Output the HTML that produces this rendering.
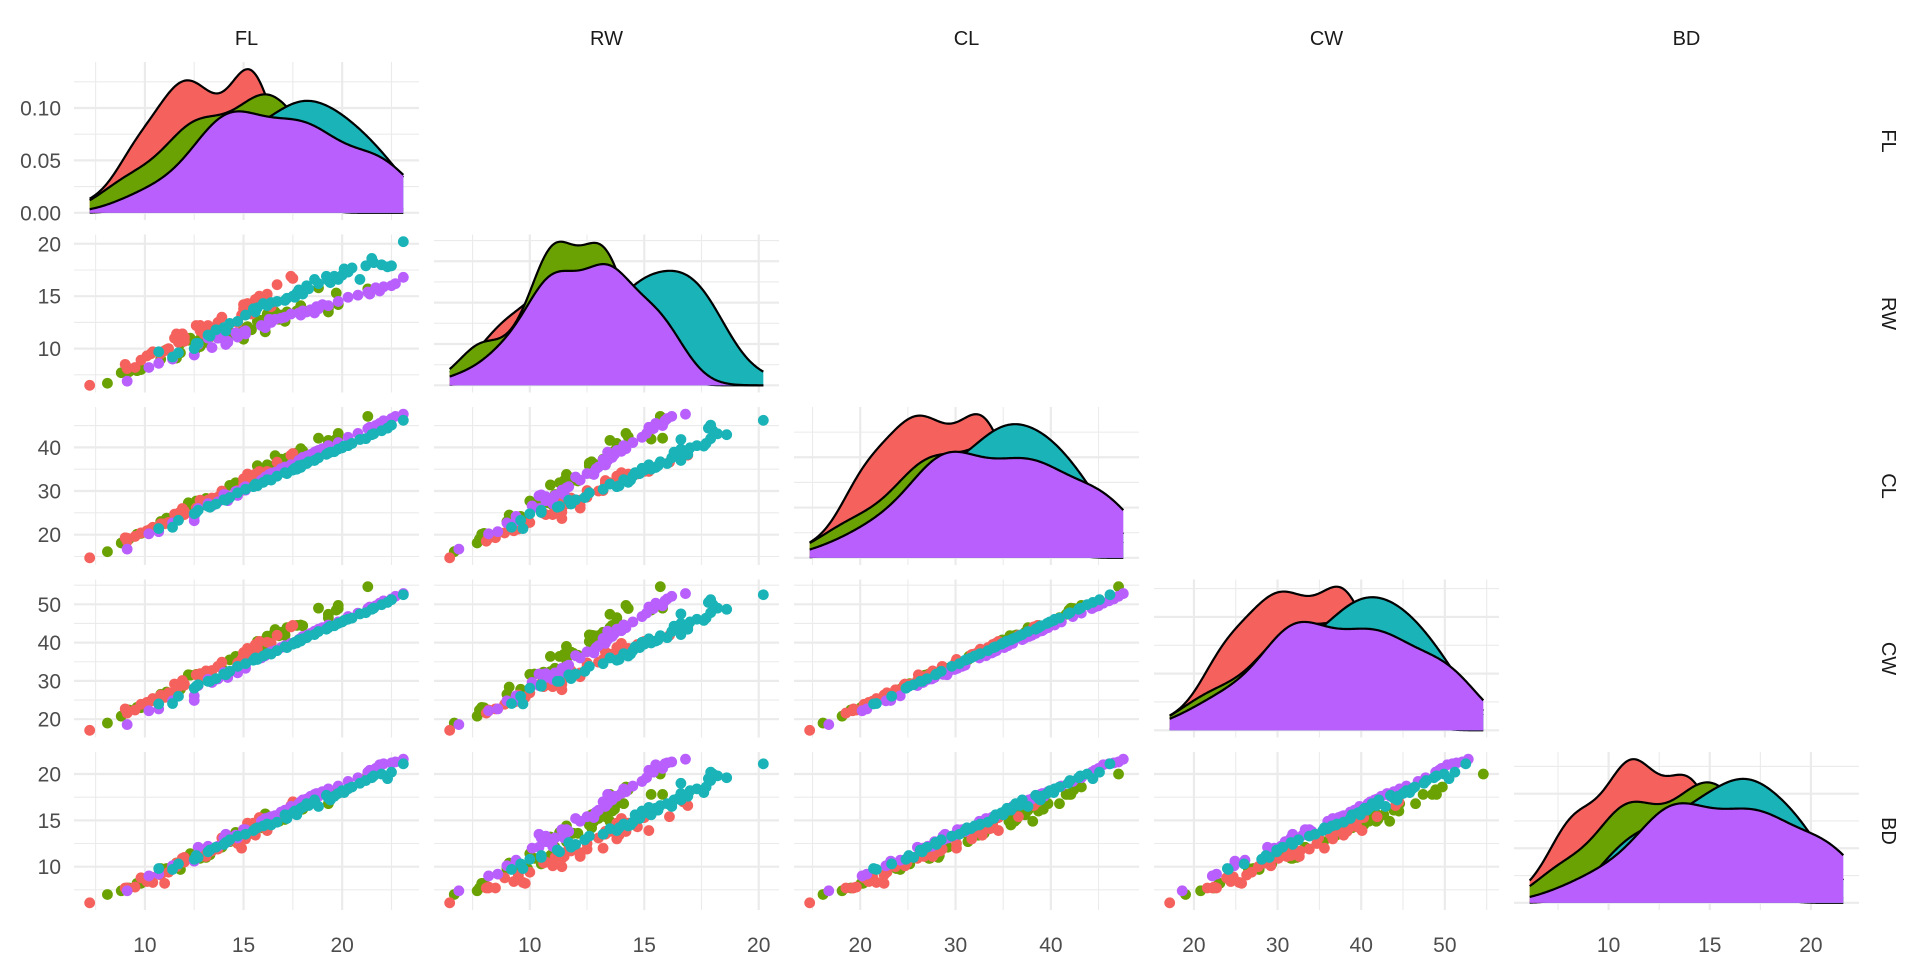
<!DOCTYPE html>
<html><head><meta charset="utf-8"><title>crabs ggpairs</title>
<style>
html,body{margin:0;padding:0;background:#fff;}
svg{display:block;font-family:"Liberation Sans",Arial,sans-serif;}
</style></head>
<body>
<svg id="chart" width="1920" height="960" viewBox="0 0 1920 960" xmlns="http://www.w3.org/2000/svg"></svg>
<script>
// ---- data (MASS crabs: groups B F, B M, O F, O M) ----
const variables = ['FL','RW','CL','CW','BD'];
const groupNames = ['B F','B M','O F','O M'];
const groupColors = ['#F5625D','#6BA203','#19B3B8','#B85FFE'];

const BF_FL = [7.2,9.0,9.1,9.1,9.5,9.8,10.1,10.3,10.4,10.8,11.0,11.2,11.5,11.6,11.6,11.7,11.9,11.9,12.0,12.0,12.6,12.8,12.8,12.8,13.0,13.1,13.2,13.4,13.7,13.9,14.7,14.9,15.0,15.0,15.1,15.1,15.1,15.2,15.3,15.4,15.5,15.6,15.6,15.7,15.8,16.2,16.4,16.7,17.4,17.5];
const BF_RW = [6.5,8.5,8.1,8.2,8.2,8.9,9.3,9.5,9.7,9.5,9.8,10.0,11.0,11.0,11.4,10.6,11.4,11.4,10.7,11.1,12.2,11.7,12.2,12.2,11.4,11.5,12.2,11.8,12.5,13.0,12.5,13.2,13.8,14.2,13.3,13.5,13.8,14.3,14.2,13.3,13.8,13.9,14.7,13.9,15.0,15.2,14.0,16.1,16.9,16.7];
const BF_CL = [14.7,19.3,18.5,19.2,19.6,20.4,20.9,21.3,21.7,22.5,22.5,22.8,24.7,24.6,23.7,24.9,26.0,25.2,24.6,25.4,26.1,27.1,26.7,27.9,27.3,27.6,27.9,28.4,28.6,30.0,30.1,30.1,31.7,32.8,31.8,31.9,31.7,33.9,32.6,32.4,33.4,32.8,33.9,33.6,34.5,34.5,34.2,36.6,38.2,38.6];
const BF_CW = [17.1,22.7,21.6,22.2,22.4,23.9,24.4,24.7,25.4,26.3,25.7,26.9,29.2,28.5,27.7,28.5,30.1,29.1,28.9,29.2,31.6,31.2,31.1,31.9,31.8,32.6,32.1,32.7,33.8,34.9,34.7,35.6,36.9,37.4,36.3,37.0,36.6,38.5,38.3,37.6,38.7,37.9,39.5,38.5,40.3,40.1,39.8,41.9,44.1,44.5];
const BF_BD = [6.1,7.7,7.7,7.7,7.8,8.8,8.4,8.9,8.3,9.1,8.2,9.4,10.1,10.4,10.0,10.4,10.9,10.9,10.5,11.0,11.2,11.9,11.1,11.5,11.3,11.1,11.5,11.7,11.9,13.1,12.5,12.0,14.0,14.0,13.5,13.8,13.0,14.7,13.8,13.8,14.7,13.4,14.3,14.1,15.3,13.9,15.2,15.4,16.6,17.0];

const BM_FL = [8.1,8.8,9.2,9.6,9.8,10.8,11.1,11.6,11.8,11.8,12.2,12.3,12.6,12.8,12.8,12.9,13.1,13.1,13.3,13.9,14.3,14.6,15.0,15.0,15.0,15.2,15.4,15.7,15.9,16.1,16.1,16.2,16.3,16.4,16.6,16.8,16.9,17.1,17.1,17.2,17.7,17.9,18.0,18.8,19.3,19.3,19.7,19.8,19.8,21.3];
const BM_RW = [6.7,7.7,7.8,7.9,8.0,9.0,9.9,9.1,9.6,10.5,10.8,11.0,10.0,10.2,10.9,11.0,10.6,10.9,11.1,11.1,11.6,11.3,10.9,11.5,11.9,12.1,11.8,12.6,12.7,11.6,12.8,13.3,12.7,13.0,13.5,12.8,13.2,12.6,12.7,13.5,13.6,14.1,13.7,15.8,13.5,13.8,15.3,14.2,14.3,15.7];
const BM_CL = [16.1,18.1,19.0,20.1,20.3,23.0,23.8,24.5,24.2,25.2,27.3,26.8,27.7,27.2,27.4,26.8,28.2,28.3,27.8,29.2,31.3,31.9,31.4,32.4,32.5,32.3,33.0,35.8,34.0,33.8,34.9,36.0,35.6,35.7,38.1,36.2,37.3,36.4,36.7,37.6,38.7,39.7,39.2,42.1,41.6,40.9,41.9,43.2,42.4,47.1];
const BM_CW = [19.0,20.8,22.4,23.1,23.0,26.5,27.1,28.4,27.8,29.3,31.6,31.5,31.7,31.8,31.5,30.9,32.3,32.4,32.3,33.3,35.5,36.4,36.4,37.0,37.2,36.7,37.5,40.3,38.9,39.0,40.7,41.7,40.9,41.8,43.4,41.8,42.7,42.0,41.9,43.9,44.5,44.6,44.4,49.0,47.4,46.5,48.5,49.7,48.9,54.6];
const BM_BD = [7.0,7.4,7.7,8.2,8.2,9.8,9.8,10.4,9.7,10.3,10.9,11.4,11.4,10.9,11.0,11.4,11.0,11.2,11.3,12.1,12.7,13.7,13.2,13.4,13.6,13.6,13.6,14.5,14.2,14.4,15.7,15.4,14.9,15.2,14.9,14.9,15.6,15.1,15.6,16.1,16.0,16.8,16.2,17.8,17.8,16.8,17.8,18.6,18.3,20.0];

const OF_FL = [10.7,11.4,11.7,12.5,12.6,12.7,13.2,13.3,13.6,14.0,14.1,14.3,14.7,15.1,15.5,15.6,15.7,16.0,16.2,16.4,16.7,17.1,17.2,17.5,17.6,17.7,17.8,17.9,18.0,18.2,18.3,18.6,18.8,19.2,19.3,19.4,19.6,19.8,20.0,20.1,20.3,20.5,20.9,21.2,21.5,21.6,22.0,22.3,22.5,23.1];
const OF_RW = [9.7,9.2,9.6,10.0,10.5,10.5,11.3,11.2,11.8,12.0,11.7,12.4,12.6,13.2,13.8,13.5,13.9,14.3,14.1,14.4,14.5,14.6,14.8,15.0,14.9,15.3,15.6,15.5,15.2,16.0,15.7,16.6,16.2,16.9,16.5,16.3,16.9,16.6,17.0,17.6,17.3,17.7,16.6,17.9,18.6,18.2,18.0,17.8,17.9,20.2];
const OF_CL = [21.4,21.7,23.3,24.8,25.1,25.6,26.5,26.3,27.0,28.0,27.9,28.5,29.6,30.4,31.0,31.6,31.2,32.0,32.6,32.5,33.4,34.2,34.0,34.8,35.2,35.0,35.8,35.4,36.0,36.3,36.7,37.0,37.6,38.4,38.7,38.9,39.0,39.6,39.9,40.3,40.4,40.9,41.8,42.0,42.9,43.1,43.8,44.4,45.1,46.2];
const OF_CW = [24.0,24.1,26.0,28.1,28.6,29.0,29.9,29.9,30.6,31.8,31.6,32.5,33.8,34.5,35.4,36.0,35.6,36.5,37.1,37.0,37.9,38.9,38.7,39.6,40.1,39.9,40.7,40.4,41.0,41.3,41.8,42.1,42.9,43.5,43.9,44.3,44.4,45.0,45.4,45.8,46.1,46.4,47.5,47.8,48.7,49.0,49.9,50.5,51.2,52.5];
const OF_BD = [9.8,9.7,10.3,10.8,11.2,11.0,11.6,11.8,12.1,12.4,12.6,12.9,13.3,13.5,13.9,14.1,14.2,14.4,14.6,14.5,14.8,15.6,15.2,15.8,16.0,15.6,16.1,16.3,16.4,16.8,16.6,17.2,16.5,17.7,17.4,17.2,17.6,17.9,18.2,18.0,18.4,18.6,19.0,19.3,19.6,19.8,20.0,19.5,20.2,21.1];

const OM_FL = [9.1,10.2,10.7,11.4,12.5,12.5,12.7,13.2,13.4,13.7,14.0,14.1,14.1,14.1,14.2,14.2,14.6,14.7,15.0,15.1,15.1,15.9,16.1,16.3,16.4,16.6,16.9,17.1,17.4,17.8,17.9,18.0,18.2,18.4,18.6,18.7,18.8,19.0,19.3,19.8,20.3,20.8,21.3,21.4,21.7,21.9,22.1,22.5,22.7,23.1];
const OM_RW = [6.9,8.2,8.6,9.0,9.4,9.4,10.4,11.0,10.1,11.0,11.5,10.4,10.5,10.7,10.6,10.7,11.5,11.1,11.6,11.4,11.7,12.2,12.0,12.8,12.5,12.8,12.9,13.0,13.3,13.4,13.2,13.6,13.5,13.7,13.4,14.0,13.8,14.2,14.1,14.5,14.9,15.1,15.4,15.2,15.8,15.5,15.9,16.0,16.2,16.8];
const OM_CL = [16.7,20.2,20.7,22.7,23.2,24.2,26.0,27.1,26.6,27.5,29.2,28.9,29.1,28.7,28.7,27.8,29.9,29.0,30.7,30.2,31.0,32.5,33.2,33.8,34.0,34.3,35.1,35.5,36.0,37.0,37.2,37.7,38.0,38.4,38.9,39.1,39.3,39.7,40.4,41.1,42.3,43.2,44.3,44.6,45.0,45.5,46.1,46.6,47.1,47.6];
const OM_CW = [18.6,22.2,22.7,24.8,24.9,26.1,28.8,30.4,29.6,30.5,32.2,31.8,31.6,31.9,31.7,30.9,33.0,32.1,33.8,33.3,34.1,36.0,36.6,37.3,37.6,37.9,38.7,39.2,39.8,40.8,41.1,41.6,41.9,42.4,43.0,43.1,43.5,43.9,44.6,45.4,46.8,47.7,48.9,49.3,49.6,50.3,50.9,51.4,52.1,52.8];
const OM_BD = [7.4,9.0,9.2,10.1,10.6,10.7,12.1,12.2,12.0,12.2,13.1,13.5,13.1,13.3,12.9,12.7,13.4,13.1,14.0,14.0,13.8,14.9,15.2,15.3,15.4,15.5,15.9,16.1,16.5,16.8,17.0,17.2,17.3,17.6,17.8,17.9,17.6,18.1,18.4,18.7,19.2,19.6,20.2,20.4,20.6,21.0,21.1,21.2,21.3,21.6];

const xBreaks = {FL:[10,15,20], RW:[10,15,20], CL:[20,30,40], CW:[20,30,40,50], BD:[10,15,20]};
const densBreaksLabels = ['0.00','0.05','0.10'];

// ---- layout ----
const svg = document.getElementById('chart');
const NS = 'http://www.w3.org/2000/svg';
const PX0 = 74, PSTEP = 360, PW = 345;
const PY0 = 62, PYSTEP = 172.5, PH = 158;
const TEXTC = '#4D4D4D', GRIDC = '#EBEBEB';
const TICKFS = 21;

const groupData = [
  {FL:BF_FL,RW:BF_RW,CL:BF_CL,CW:BF_CW,BD:BF_BD},
  {FL:BM_FL,RW:BM_RW,CL:BM_CL,CW:BM_CW,BD:BM_BD},
  {FL:OF_FL,RW:OF_RW,CL:OF_CL,CW:OF_CW,BD:OF_BD},
  {FL:OM_FL,RW:OM_RW,CL:OM_CL,CW:OM_CW,BD:OM_BD}
];

function mk(tag, attrs, parent){
  const e = document.createElementNS(NS, tag);
  for (const k in attrs) e.setAttribute(k, attrs[k]);
  (parent||svg).appendChild(e);
  return e;
}

const ranges = {};
variables.forEach(v => {
  let mn = Infinity, mx = -Infinity;
  groupData.forEach(g => g[v].forEach(x => { if (x<mn) mn=x; if (x>mx) mx=x; }));
  const r = mx - mn;
  ranges[v] = {min:mn, max:mx, lo:mn-0.05*r, hi:mx+0.05*r};
});
function xScale(v, col){ const r = ranges[v]; return val => PX0 + col*PSTEP + (val - r.lo)/(r.hi - r.lo)*PW; }
function yScale(v, row){ const r = ranges[v]; return val => PY0 + row*PYSTEP + PH - (val - r.lo)/(r.hi - r.lo)*PH; }

function minorOf(br){
  const step = br[1]-br[0]; const out=[];
  for (let t = br[0]-step/2; t <= br[br.length-1]+step/2+1e-9; t += step) out.push(t);
  return out;
}

function quantile(s, p){ const h=(s.length-1)*p, lo=Math.floor(h); return s[lo] + (h-lo)*((s[Math.min(lo+1,s.length-1)])-s[lo]); }
function bwNrd0(a){
  const n=a.length, m=a.reduce((s,x)=>s+x,0)/n;
  const sd=Math.sqrt(a.reduce((s,x)=>s+(x-m)*(x-m),0)/(n-1));
  const s=a.slice().sort((p,q)=>p-q);
  const iqr=quantile(s,0.75)-quantile(s,0.25);
  return 0.9*Math.min(sd, iqr/1.34)*Math.pow(n,-0.2);
}
function kde(a, lo, hi, N){
  const bw=bwNrd0(a), out=[];
  for (let i=0;i<N;i++){
    const x=lo+(hi-lo)*i/(N-1); let s=0;
    for (const v of a){ const z=(x-v)/bw; s+=Math.exp(-0.5*z*z); }
    out.push([x, s/(a.length*bw*Math.sqrt(2*Math.PI))]);
  }
  return out;
}
function niceStep(range){
  const raw = range/5*1.2; const p = Math.pow(10, Math.floor(Math.log10(raw)));
  for (const c of [1,2,2.5,5,10]) if (c*p >= raw) return c*p;
  return 10*p;
}

function drawGrid(g, x0, y0, xb, yb, xs, ys){
  minorOf(xb).forEach(t => { const x=xs(t); if (x>=x0 && x<=x0+PW) { const l = mk('line',{x1:x,x2:x,y1:y0,y2:y0+PH,stroke:GRIDC,'stroke-width':1.1},g);
    
     } });
  minorOf(yb).forEach(t => { const y=ys(t); if (y>=y0 && y<=y0+PH) { const l = mk('line',{x1:x0,x2:x0+PW,y1:y,y2:y,stroke:GRIDC,'stroke-width':1.1},g);
    
     } });
  xb.forEach(t => { const x=xs(t); const l = mk('line',{x1:x,x2:x,y1:y0,y2:y0+PH,stroke:GRIDC,'stroke-width':2.2},g);
    
     });
  yb.forEach(t => { const y=ys(t); if (y>=y0-1 && y<=y0+PH+1) { const l = mk('line',{x1:x0,x2:x0+PW,y1:y,y2:y,stroke:GRIDC,'stroke-width':2.2},g);
    
     } });
}

const pointOrder = [1,0,3,2];

for (let row=0; row<5; row++){
  for (let col=0; col<=row; col++){
    const vx = variables[col], vy = variables[row];
    const x0 = PX0 + col*PSTEP, y0 = PY0 + row*PYSTEP;
    const g = mk('g',{});
    
    
    const xs = xScale(vx, col);
    if (row === col){
      const lo = ranges[vx].min, hi = ranges[vx].max;
      const curves = groupData.map(gd => kde(gd[vx], lo, hi, 256));
      let M = 0; curves.forEach(c => c.forEach(p => { if (p[1]>M) M=p[1]; }));
      const dlo = -0.05*M, dhi = 1.05*M;
      const ys = d => y0 + PH - (d - dlo)/(dhi - dlo)*PH;
      let yb;
      if (row === 0) yb = [0,0.05,0.10];
      else { const st = niceStep(M); yb=[]; for (let t=0;t<=M*1.05;t+=st) yb.push(t); }
      drawGrid(g, x0, y0, xBreaks[vx], yb, xs, ys);
      curves.forEach((c, gi) => {
        let d = 'M'+xs(c[0][0]).toFixed(2)+','+ys(0).toFixed(2);
        c.forEach(p => { d += 'L'+xs(p[0]).toFixed(2)+','+ys(p[1]).toFixed(2); });
        d += 'L'+xs(c[c.length-1][0]).toFixed(2)+','+ys(0).toFixed(2)+'Z';
        const area = mk('path',{d:d, fill:groupColors[gi], stroke:'none'}, g);
        
        
        let d2 = 'M'+xs(c[0][0]).toFixed(2)+','+ys(c[0][1]).toFixed(2);
        c.forEach(p => { d2 += 'L'+xs(p[0]).toFixed(2)+','+ys(p[1]).toFixed(2); });
        const line = mk('path',{d:d2, fill:'none', stroke:'#000', 'stroke-width':2.2}, g);
        
        
      });
      if (row === 0){
        yb.forEach((t,i) => {
          const tx = mk('text',{x:61, y:ys(t)+7.5, 'text-anchor':'end', 'font-size':TICKFS, fill:TEXTC});
          tx.textContent = densBreaksLabels[i];
          
          
        });
      }
    } else {
      const ys = yScale(vy, row);
      drawGrid(g, x0, y0, xBreaks[vx], xBreaks[vy], xs, ys);
      pointOrder.forEach(gi => {
        const gd = groupData[gi];
        gd[vx].forEach((xv, k) => {
          const c = mk('circle',{cx:xs(xv).toFixed(2), cy:ys(gd[vy][k]).toFixed(2), r:5.4, fill:groupColors[gi]}, g);
          
          
        });
      });
      if (col === 0){
        xBreaks[vy].forEach(t => {
          const tx = mk('text',{x:61, y:ys(t)+7.5, 'text-anchor':'end', 'font-size':TICKFS, fill:TEXTC});
          tx.textContent = String(t);
          
          
        });
      }
    }
    if (row === 4){
      xBreaks[vx].forEach(t => {
        const tx = mk('text',{x:xs(t), y:952, 'text-anchor':'middle', 'font-size':TICKFS, fill:TEXTC});
        tx.textContent = String(t);
        
        
      });
    }
  }
}

variables.forEach((v, i) => {
  const t = mk('text',{x:PX0+i*PSTEP+PW/2, y:45, 'text-anchor':'middle', 'font-size':20, fill:'#1A1A1A'});
  t.textContent = v;
  
  
  const cy = PY0 + i*PYSTEP + PH/2;
  const r = mk('text',{x:1882, y:cy, 'text-anchor':'middle', 'font-size':20, fill:'#1A1A1A', transform:'rotate(90 1882 '+cy+')'});
  r.textContent = v;
  
  
});
</script>
</body></html>
